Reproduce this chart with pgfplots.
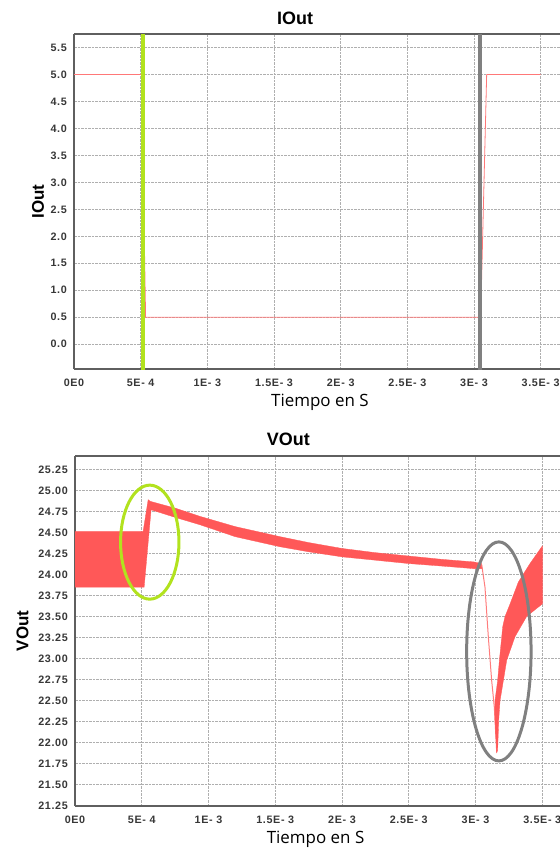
\documentclass[border=0pt]{standalone}
\usepackage{pgfplots}
\pgfplotsset{compat=1.18}
\usepackage{fontspec}
\setmainfont{Liberation Sans}
\newfontfamily\tickfont[LetterSpace=6]{Liberation Sans}
\newfontfamily\labfont{Open Sans}
\definecolor{vred}{RGB}{255,88,88}
\definecolor{ioutred}{RGB}{255,120,120}
\definecolor{thinred}{RGB}{255,125,125}
\definecolor{limeg}{RGB}{178,226,30}
\definecolor{markgray}{RGB}{128,128,128}
\definecolor{axisgray}{RGB}{95,95,95}
\definecolor{gridgray}{RGB}{175,175,175}
\definecolor{ticktext}{RGB}{55,55,55}
\pgfplotsset{
  common/.style={
    scale only axis,
    anchor=north west,
    grid=major,
    grid style={gridgray, dash pattern=on 2.5bp off 1bp, line width=0.6bp},
    major tick length=0pt,
    axis x line=box, axis y line=left,
    axis line style={-, draw=axisgray, line width=1.3bp},
    xtick={0,0.5,1,1.5,2,2.5,3,3.5},
    xticklabels={0E0,5E- 4,1E- 3,1.5E- 3,2E- 3,2.5E- 3,3E- 3,3.5E- 3},
    xticklabel style={anchor=base, inner sep=0pt, yshift=-17bp, font={\fontsize{10.8}{12}\tickfont\bfseries}, text=ticktext},
    yticklabel style={anchor=east, inner sep=0pt, xshift=-7bp, font={\fontsize{10.8}{12}\tickfont\bfseries}, text=ticktext},
    /pgf/number format/assume math mode=true,
    title style={anchor=base, font={\fontsize{18}{20}\selectfont\bfseries}},
    xlabel style={anchor=base, font={\fontsize{17}{20}\labfont}},
    ylabel style={anchor=center, font={\fontsize{17}{20}\selectfont\bfseries}},
    xlabel={Tiempo en S},
  }
}
\begin{document}
\begin{tikzpicture}
\useasboundingbox (0,0) rectangle (560bp,-851bp);
% ---------- IOut ----------
\begin{axis}[common,
  at={(74bp,-34bp)}, width=486bp, height=335bp,
  xmin=0, xmax=3.645, ymin=-0.46, ymax=5.75,
  ytick={0,0.5,1,1.5,2,2.5,3,3.5,4,4.5,5,5.5},
  yticklabel style={/pgf/number format/.cd, fixed, fixed zerofill, precision=1},
  title={IOut},
  title style={at={(axis description cs:0.455,1)}, yshift=4bp},
  xlabel style={at={(axis description cs:0.506,0)}, yshift=-37bp},
  ylabel={IOut},
  ylabel style={at={(axis description cs:-0.0741,0.5)}},
]
\addplot[draw=ioutred, line width=0.8bp] coordinates {(0,5)(0.507,5)(0.537,0.5)(3.05,0.5)(3.095,5)(3.5,5)};
\addplot[draw=limeg, line width=4bp] coordinates {(0.52,-0.6)(0.52,5.9)};
\addplot[draw=markgray, line width=4bp] coordinates {(3.046,-0.6)(3.046,5.9)};
\end{axis}
% ---------- VOut ----------
\begin{axis}[common,
  at={(75bp,-456bp)}, width=485bp, height=350bp,
  xmin=0, xmax=3.633, ymin=21.245, ymax=25.41,
  ytick={21.25,21.5,21.75,22,22.25,22.5,22.75,23,23.25,23.5,23.75,24,24.25,24.5,24.75,25,25.25},
  yticklabel style={/pgf/number format/.cd, fixed, fixed zerofill, precision=2},
  title={VOut},
  title style={at={(axis description cs:0.44,1)}, yshift=5bp},
  xlabel style={at={(axis description cs:0.496,0)}, yshift=-37bp},
  ylabel={VOut},
  ylabel style={at={(axis description cs:-0.108,0.5)}},
]
\addplot[fill=vred, draw=vred, line width=0.3bp] coordinates {
  (0,24.51) (0.510,24.51) (0.548,24.89) (0.565,24.87) (0.75,24.79) (0.94,24.69)
  (1.2,24.57) (1.536,24.45) (1.75,24.38) (2.0,24.31) (2.25,24.26) (2.5,24.22)
  (2.75,24.18) (2.985,24.15) (3.046,24.13)
  (3.05,24.07) (2.985,24.07) (2.75,24.10) (2.5,24.13) (2.25,24.17) (2.0,24.21)
  (1.75,24.27) (1.536,24.33) (1.2,24.45)
  (0.94,24.59) (0.75,24.68) (0.57,24.77) (0.518,23.85) (0,23.85)} -- cycle;
\addplot[draw=thinred, line width=1bp] coordinates {
  (3.046,24.12) (3.071,23.85) (3.096,23.26) (3.121,22.74) (3.141,22.42) (3.159,21.88)};
\addplot[fill=vred, draw=vred, line width=0.3bp] coordinates {
  (3.159,21.88) (3.146,22.27) (3.146,22.50) (3.166,22.74) (3.179,22.98) (3.189,23.14)
  (3.204,23.38) (3.221,23.50) (3.259,23.65) (3.321,23.91) (3.408,24.13) (3.501,24.34)
  (3.501,23.65) (3.453,23.59) (3.383,23.50) (3.296,23.26) (3.234,22.98) (3.209,22.74)
  (3.184,22.50) (3.174,22.27) (3.166,21.91)} -- cycle;
\draw[limeg, line width=3bp] (axis cs:0.560,24.385) ellipse [x radius=29.2bp, y radius=57bp];
\draw[markgray, line width=3bp] (axis cs:3.175,23.085) ellipse [x radius=32.2bp, y radius=109.5bp];
\end{axis}
\end{tikzpicture}
\end{document}
